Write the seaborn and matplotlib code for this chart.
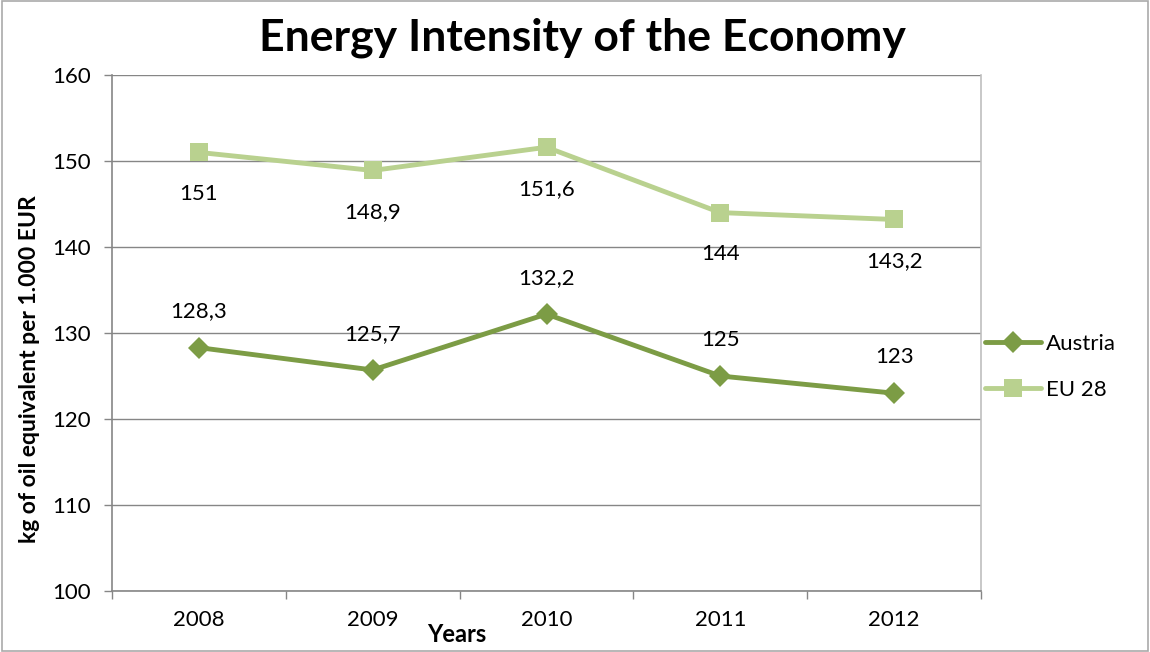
import matplotlib
matplotlib.use("Agg")
import matplotlib.pyplot as plt
import seaborn as sns
import pandas as pd
from matplotlib.patches import Rectangle

# Data
years = ["2008", "2009", "2010", "2011", "2012"]
austria = [128.3, 125.7, 132.2, 125.0, 123.0]
eu28 = [151.0, 148.9, 151.6, 144.0, 143.2]
austria_labels = ["128,3", "125,7", "132,2", "125", "123"]
eu28_labels = ["151", "148,9", "151,6", "144", "143,2"]

sns.set_theme(style="white")
plt.rcParams["font.family"] = ["Lato", "DejaVu Sans"]
plt.rcParams["text.color"] = "black"

col_at = "#7C9C45"
col_eu = "#B9D18F"

df = pd.DataFrame({"pos": range(len(years)), "Austria": austria, "EU 28": eu28})

fig = plt.figure(figsize=(11.5, 6.52), dpi=100)
ax = fig.add_axes([112 / 1150, 1 - 591 / 652, (981 - 112) / 1150, (591 - 75) / 652])

sns.lineplot(data=df, x="pos", y="Austria", ax=ax, color=col_at, lw=3.5,
             marker="D", markersize=11, markeredgewidth=0, label="Austria")
sns.lineplot(data=df, x="pos", y="EU 28", ax=ax, color=col_eu, lw=3.5,
             marker="s", markersize=13.5, markeredgewidth=0, label="EU 28")

# data labels
for i, (v, t) in enumerate(zip(austria, austria_labels)):
    ax.annotate(t, (i, v), xytext=(0, 26), textcoords="offset points",
                ha="center", va="center", fontsize=16, color="black")
for i, (v, t) in enumerate(zip(eu28, eu28_labels)):
    ax.annotate(t, (i, v), xytext=(0, -30), textcoords="offset points",
                ha="center", va="center", fontsize=16, color="black")

ax.set_xlim(-0.5, len(years) - 0.5)
ax.set_ylim(100, 160)
ax.set_yticks(range(100, 161, 10))
ax.set_xticks(range(len(years)))
ax.set_xticklabels(years)
ax.set_xticks([i - 0.5 for i in range(len(years) + 1)], minor=True)
ax.tick_params(axis="x", which="major", length=0, pad=14, labelsize=16)
ax.tick_params(axis="x", which="minor", length=6, width=1, color="#868686", direction="out", bottom=True)
ax.tick_params(axis="y", length=6, width=1, color="#868686", direction="out", left=True, pad=9, labelsize=16)
for lab in ax.get_xticklabels() + ax.get_yticklabels():
    lab.set_color("black")

ax.grid(axis="y", color="#868686", lw=1)
ax.set_axisbelow(True)
for s in ["left", "bottom"]:
    ax.spines[s].set_color("#868686")
    ax.spines[s].set_linewidth(1.2)
ax.spines["top"].set_visible(False)
ax.spines["right"].set_color("#BFBFBF")
ax.spines["right"].set_linewidth(1.2)

ax.set_xlabel("")
ax.set_ylabel("")
fig.text(30 / 1150, 1 - 369 / 652, "kg of oil equivalent per 1.000 EUR", fontsize=16.5,
         fontweight="bold", rotation=90, ha="center", va="center", color="black")
fig.text(457 / 1150, 1 - 634 / 652, "Years", fontsize=17, fontweight="bold",
         ha="center", va="center", color="black")
fig.text(582 / 1150, 1 - 38 / 652, "Energy Intensity of the Economy", fontsize=32,
         fontweight="bold", ha="center", va="center", color="black")

leg = ax.legend(loc="center left", bbox_to_anchor=((985 - 112) / 869, (591 - 367) / 516), frameon=False,
                fontsize=16, handlelength=2.5, labelspacing=1.15, handletextpad=0.25,
                borderpad=0, borderaxespad=0)
for t in leg.get_texts():
    t.set_color("black")

fig.add_artist(Rectangle((0.002, 0.002), 0.996, 0.996, transform=fig.transFigure,
                         fill=False, edgecolor="#AAAAAA", lw=1.2))

fig.savefig("out.png", dpi=100)
